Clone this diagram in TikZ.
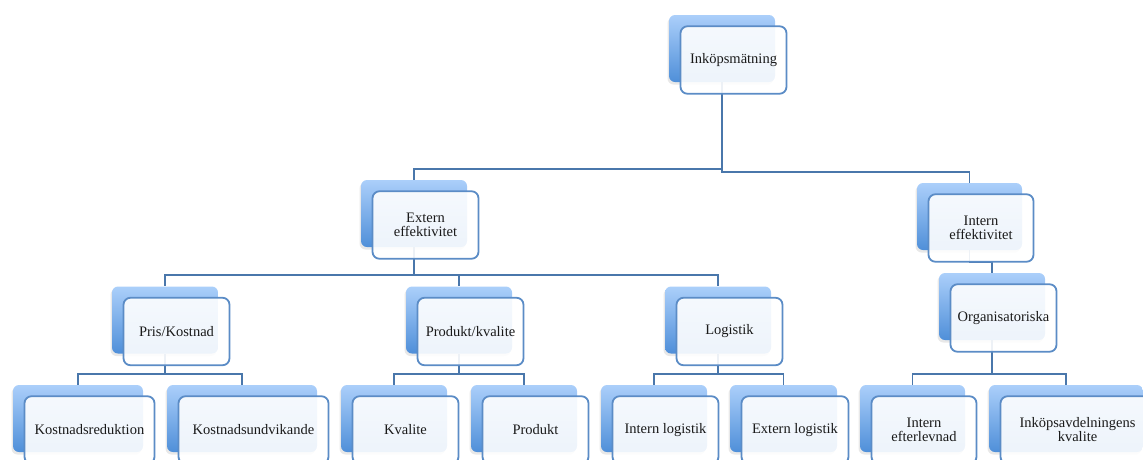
\documentclass[tikz,border=0pt]{standalone}
\usepackage{fontspec}
\setmainfont{Liberation Serif}
\usetikzlibrary{calc,shadows}
\definecolor{boxtop}{HTML}{ABCFFA}
\definecolor{boxbot}{HTML}{4F8FD9}
\definecolor{edgeblue}{HTML}{5B8CC6}
\definecolor{linkblue}{HTML}{4A77AB}
\definecolor{inkdark}{HTML}{1A1A1A}
\newcommand{\lb}{\fontsize{14.5}{14}\selectfont}

\begin{document}
\begin{tikzpicture}[x=1pt, y=-1pt,
  back/.style={rounded corners=6pt, minimum height=67pt, inner sep=0pt, draw=none,
               top color=boxtop, bottom color=boxbot,
               drop shadow={shadow xshift=-1.5pt, shadow yshift=-2.5pt, opacity=0.18}},
  front/.style={rounded corners=7pt, minimum height=67.5pt, inner sep=2pt, draw=edgeblue,
                line width=1.8pt, fill=white, fill opacity=0.9, text opacity=1,
                font=\lb, text=inkdark, align=center},
  link/.style={draw=linkblue, line width=1.8pt}]

\clip (0,0) rectangle (1143,459);

% ================================================================== back plates (centre x, centre y, width in px)
\foreach \n/\x/\y/\w in {ink/722/48.5/106, ext/414/213.5/106, int/969.5/216.5/105,
    pris/165/320/106, prod/459/320/106, log/718/320/106, org/992/306.5/106,
    kred/78/418.5/130, kund/242/418.5/150, kval/394/418.5/106, pdt/524/418.5/106,
    ilog/654/418.5/106, elog/783.5/418.5/107, iefl/912.5/418.5/105, ikv/1066/418.5/154}{
  \node[back, minimum width=\w pt] (\n) at (\x,\y) {};
}

% ================================================================== connectors, elbow 11px above the child
\foreach \p/\c in {ink/ext, ink/int, ext/pris, ext/prod, ext/log, int/org,
    pris/kred, pris/kund, prod/kval, prod/pdt, log/ilog, log/elog, org/iefl, org/ikv}{
  \draw[link] (\p.south) |- ([yshift=11pt]\c.north) -- (\c.north);
}

% ================================================================== front cards with the labels
\foreach \n/\w/\t in {ink/106/Inköpsmätning, ext/106/{Extern\\effektivitet},
    int/105/{Intern\\effektivitet}, pris/106/{Pris/Kostnad}, prod/106/{Produkt/kvalite},
    log/106/Logistik, org/106/Organisatoriska, kred/130/Kostnadsreduktion,
    kund/150/Kostnadsundvikande, kval/106/Kvalite, pdt/106/Produkt,
    ilog/106/{Intern logistik}, elog/107/{Extern logistik},
    iefl/105/{Intern\\efterlevnad}, ikv/154/{Inköpsavdelningens\\kvalite}}{
  \node[front, minimum width=\w pt] (f\n) at ([shift={(11.5pt,-11.5pt)}]\n.center) {\t};
}
\end{tikzpicture}
\end{document}
